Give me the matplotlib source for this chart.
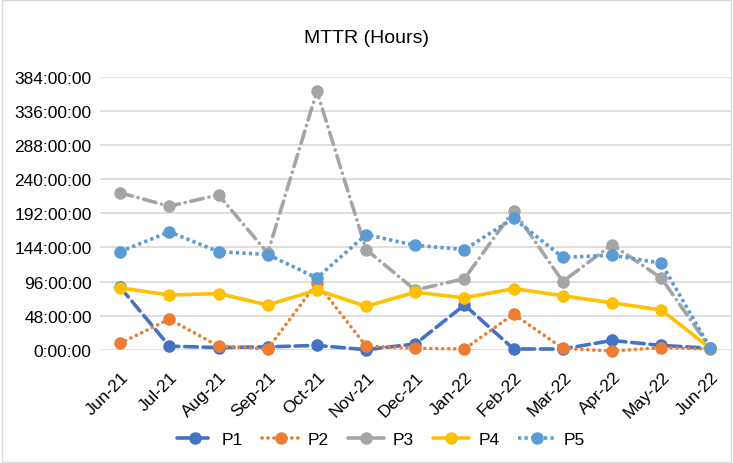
import matplotlib.pyplot as plt
from matplotlib.ticker import FuncFormatter, MultipleLocator
from matplotlib.patches import Rectangle
from matplotlib.transforms import ScaledTranslation

plt.rcParams['font.family'] = ['Liberation Sans', 'DejaVu Sans']

# months on the x axis
months = ['Jun-21', 'Jul-21', 'Aug-21', 'Sep-21', 'Oct-21', 'Nov-21', 'Dec-21',
          'Jan-22', 'Feb-22', 'Mar-22', 'Apr-22', 'May-22', 'Jun-22']

# MTTR in hours per series
p1 = [88, 5, 3, 4, 6, 0, 8, 63, 1, 1, 13, 6, 2]
p2 = [9, 43, 5, 1, 94, 5, 2, 1, 50, 2, -2, 3, 1]
p3 = [221, 202, 218, 136, 364, 141, 84, 100, 196, 96, 148, 101, 2]
p4 = [87, 77, 79, 63, 84, 61, 81, 73, 86, 76, 66, 56, 2]
p5 = [138, 166, 138, 134, 101, 162, 147, 141, 185, 130, 133, 122, 2]

fig = plt.figure(figsize=(7.33, 4.64), dpi=100)
ax = fig.add_axes([0.1364, 0.2442, 0.8609, 0.5877])

x = range(len(months))
lw = 2.6
ms = 8

ax.plot(x, p1, color='#4472C4', lw=lw, marker='o', ms=ms, label='P1',
        dashes=(3.5, 1.6), dash_capstyle='round', clip_on=False, zorder=3)
ax.plot(x, p2, color='#ED7D31', lw=lw, marker='o', ms=ms, label='P2',
        dashes=(0.05, 1.6), dash_capstyle='round', clip_on=False, zorder=4)
ax.plot(x, p3, color='#A5A5A5', lw=lw, marker='o', ms=ms, label='P3',
        dashes=(3.5, 1.6, 0.05, 1.6), dash_capstyle='round', clip_on=False, zorder=5)
ax.plot(x, p4, color='#FFC000', lw=lw, marker='o', ms=ms, label='P4',
        solid_capstyle='round', clip_on=False, zorder=6)
ax.plot(x, p5, color='#5B9BD5', lw=lw, marker='o', ms=ms, label='P5',
        dashes=(0.9, 0.9), clip_on=False, zorder=7)

ax.set_xlim(-0.41, 12.42)
ax.set_ylim(0, 384)
ax.yaxis.set_major_locator(MultipleLocator(48))
ax.yaxis.set_major_formatter(FuncFormatter(lambda v, pos: f"{int(v)}:00:00"))
ax.set_xticks(list(x))
ax.set_xticklabels(months, rotation=45, ha='right', va='center',
                   rotation_mode='anchor', fontsize=12.5)
ax.tick_params(axis='y', labelsize=12.5, length=0, pad=6)
ax.tick_params(axis='x', length=0, pad=17.5)
shift = ScaledTranslation(0.06, 0, fig.dpi_scale_trans)
for lab in ax.get_xticklabels():
    lab.set_transform(lab.get_transform() + shift)

ax.grid(axis='y', color='#D9D9D9', lw=1.2)
ax.set_axisbelow(True)
for s in ax.spines.values():
    s.set_visible(False)

fig.text(0.5, 0.918, 'MTTR (Hours)', fontsize=14, ha='center', va='center')

ax.legend(loc='center', bbox_to_anchor=(0.445, -0.33), ncol=5, frameon=False,
          fontsize=12.5, handlelength=2.1, columnspacing=1.1, handletextpad=0.5)

fig.patches.append(Rectangle((0.003, 0.003), 0.994, 0.994, transform=fig.transFigure,
                             fill=False, edgecolor='#D9D9D9', lw=1))

fig.savefig('out.png', dpi=100)
